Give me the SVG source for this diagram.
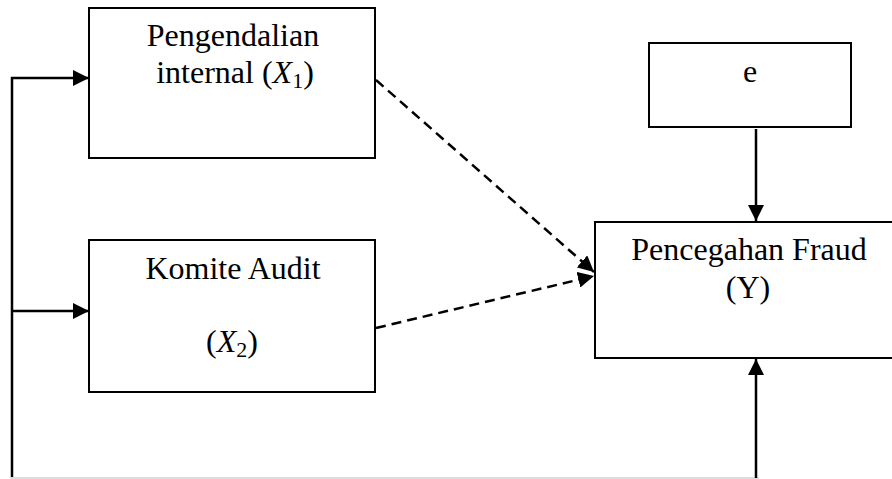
<svg xmlns="http://www.w3.org/2000/svg" width="892" height="479" viewBox="0 0 892 479">
  <style>
    .box { fill: #ffffff; stroke: #000000; stroke-width: 2; }
    .lbl { font-family: "Liberation Serif", "Times New Roman", serif; font-size: 32px; fill: #000000; text-anchor: middle; }
    .math { font-style: italic; }
    .sub { font-size: 22px; font-style: normal; }
    .solid { fill: none; stroke: #000000; stroke-width: 2.5; }
    .dash { fill: none; stroke: #000000; stroke-width: 2.5; stroke-dasharray: 10 6; }
  </style>
  <defs>
    <marker id="ah" markerUnits="userSpaceOnUse" markerWidth="16" markerHeight="16" refX="16" refY="8" orient="auto">
      <path d="M0,0 L16,8 L0,16 Z" fill="#000000"/>
    </marker>
  </defs>
  <rect width="892" height="479" fill="#ffffff"/>

  <g id="node-x1">
    <rect class="box" x="89" y="8" width="286" height="150"/>
    <text class="lbl" x="233" y="46">Pengendalian</text>
    <text class="lbl" x="235" y="83">internal (<tspan class="math">X</tspan><tspan class="sub" dy="5">1</tspan><tspan dy="-5">)</tspan></text>
  </g>

  <g id="node-x2">
    <rect class="box" x="89" y="240" width="286" height="152"/>
    <text class="lbl" x="233" y="279">Komite Audit</text>
    <text class="lbl" x="232" y="352">(<tspan class="math">X</tspan><tspan class="sub" dy="5">2</tspan><tspan dy="-5">)</tspan></text>
  </g>

  <g id="node-e">
    <rect class="box" x="649" y="43" width="202" height="84"/>
    <text class="lbl" x="750" y="82">e</text>
  </g>

  <g id="node-y">
    <rect class="box" x="595" y="222" width="310" height="136"/>
    <text class="lbl" x="749" y="260">Pencegahan Fraud</text>
    <text class="lbl" x="748" y="298">(Y)</text>
  </g>

  <g id="connectors">
    <line x1="10" y1="478" x2="759" y2="478" stroke="#d0d0d0" stroke-width="1.5"/>
    <polyline class="solid" points="12,477 12,78 89,78" marker-end="url(#ah)"/>
    <line class="solid" x1="12" y1="311" x2="89" y2="311" marker-end="url(#ah)"/>
    <line class="dash" x1="376" y1="80" x2="594" y2="272" marker-end="url(#ah)"/>
    <line class="dash" x1="376" y1="328" x2="594" y2="276" marker-end="url(#ah)"/>
    <line class="solid" x1="756" y1="129" x2="756" y2="221" marker-end="url(#ah)"/>
    <line class="solid" x1="756" y1="478" x2="756" y2="359" marker-end="url(#ah)"/>
  </g>
</svg>
